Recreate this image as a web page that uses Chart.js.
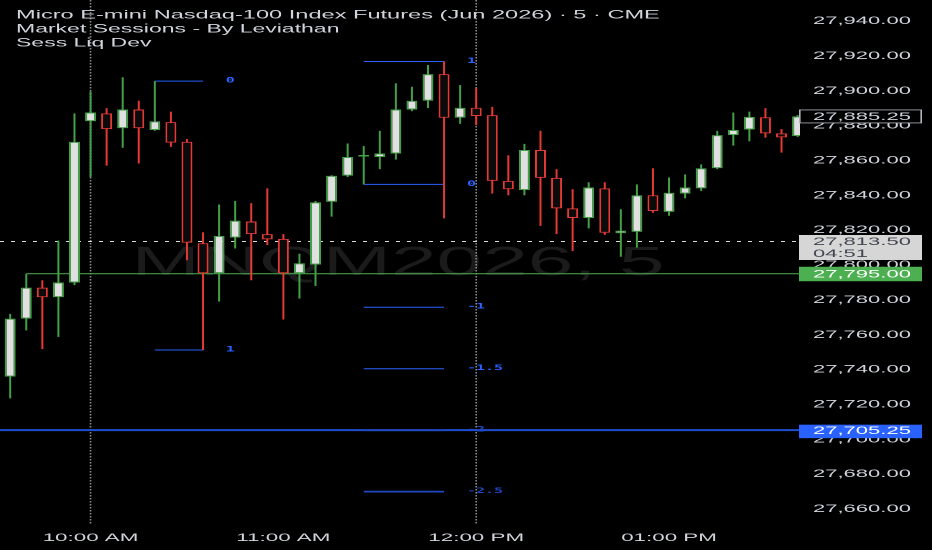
<!DOCTYPE html>
<html>
<head>
<meta charset="utf-8">
<title>MNQM2026 · 5</title>
<script src="https://cdn.jsdelivr.net/npm/chart.js@4.4.1/dist/chart.umd.min.js"></script>
<style>
  html, body { margin: 0; padding: 0; background: #000; overflow: hidden; }
  /* the screenshot is stretched 2x horizontally, so the chart is drawn at half width */
  #wrap { width: 466px; height: 550px; transform: scaleX(2); transform-origin: 0 0; }
</style>
</head>
<body>
<div id="wrap"><canvas id="chart" width="466" height="550"></canvas></div>
<script>
// 5 minute bars
const times = ['09:35','09:40','09:45','09:50','09:55','10:00','10:05','10:10','10:15','10:20',
  '10:25','10:30','10:35','10:40','10:45','10:50','10:55','11:00','11:05','11:10',
  '11:15','11:20','11:25','11:30','11:35','11:40','11:45','11:50','11:55','12:00',
  '12:05','12:10','12:15','12:20','12:25','12:30','12:35','12:40','12:45','12:50',
  '12:55','13:00','13:05','13:10','13:15','13:20','13:25','13:30','13:35','13:40']
const opens = [27736,27769.25,27787,27781.5,27790,27882.5,27887,27878.5,27889.25,27877.5,
  27882,27870.75,27812.5,27795.25,27815.75,27825,27817.75,27815,27795.25,27800.25,
  27836.25,27851.25,27862.25,27862,27864,27889.25,27894.25,27909.5,27884.5,27890.25,
  27886,27848.25,27843,27866,27850,27832.5,27827,27844,27818.25,27819,
  27840,27830.5,27841,27844,27855.5,27874.5,27877.75,27884.75,27875.5,27874]
const highs = [27772,27795,27791.25,27814,27887,27899.5,27890,27907.75,27894.25,27905.5,
  27888,27872.25,27818.75,27834.75,27836.75,27835.5,27844,27817.75,27806.5,27836.75,
  27851.5,27869.75,27868.25,27877,27904.25,27902.25,27914.75,27916.75,27903.25,27901.5,
  27890.75,27863,27869.5,27877,27855,27843.5,27847.5,27847.5,27832,27846.25,
  27855.5,27850.25,27852,27857.75,27877,27887.5,27888,27890,27878,27886]
const lows = [27723.5,27762.5,27751.75,27758.75,27788.5,27850.5,27857,27867.25,27858.25,27877,
  27867.75,27802.75,27751.25,27779,27809.5,27791.25,27811.5,27768.75,27780.75,27788,
  27827.75,27850.5,27846.25,27855,27860.5,27888.25,27890,27826.75,27881,27880.25,
  27841,27840,27840,27822.5,27817.75,27808,27821,27817.25,27804.75,27810,
  27830,27828.25,27838.25,27842.5,27855,27868.5,27871,27873,27864.5,27873.5]
const closes = [27769.25,27787,27781.5,27790,27870.75,27887.5,27878,27889.25,27878.5,27882.5,
  27870.25,27812.75,27795.25,27816.75,27825.5,27817.75,27814.75,27795.25,27801,27836,
  27851.25,27862,27862.5,27864,27889.25,27894.25,27909.5,27884.5,27890.25,27885.5,
  27848.25,27843.5,27866,27850,27832.5,27827,27844.5,27818.5,27819.75,27840,
  27831,27841.5,27844.5,27855.5,27874.5,27877.5,27885,27875.5,27873.25,27885.25]

const priceTicks = [27660,27680,27700,27720,27740,27760,27780,27800,27820,27840,27860,27880,27900,27920,27940]
const timeTicks = ['10:00','11:00','12:00','13:00']
const timeTickLabels = ['10:00 AM','11:00 AM','12:00 PM','01:00 PM']
const sessionBreaks = ['10:00','12:00']

const titleLines = ['Micro E-mini Nasdaq-100 Index Futures (Jun 2026) · 5 · CME', 'Market Sessions - By Leviathan', 'Sess Liq Dev']
const watermark = 'MNQM2026, 5'

// Sess Liq Dev levels
const devA_span = ['10:20','10:35']
const devA_levels = [27905.5, 27751.25]
const devA_labels = ['0','1']
const devB_span = ['11:25','11:50']
const devB_levels = [27916.75, 27846.25, 27775.75, 27740.5, 27705.25, 27670]
const devB_labels = ['1','0','-1','-1.5','-2','-2.5']

// price scale markers
const lastPrice = 27885.25
const livePrice = 27813.5
const countdown = '04:51'
const greenLevel = 27795
const greenFrom = '09:40'
const blueLevel = 27705.25

const GREEN = '#43a047'
const RED = '#e53935'
const TEXT = '#d1d4dc'
const FONT = '"Liberation Sans", Arial, sans-serif'

const isUp = i => closes[i] >= opens[i]
const fmt = v => v.toLocaleString('en-US', { minimumFractionDigits: 2, maximumFractionDigits: 2 })

const overlay = {
    id: 'overlay',
    beforeDatasetsDraw(chart) {
        const { ctx, chartArea: a, scales: { x, y } } = chart
        ctx.save()

        ctx.font = '41px ' + FONT
        ctx.fillStyle = '#1b1b1b'
        ctx.textAlign = 'center'
        ctx.textBaseline = 'alphabetic'
        ctx.fillText(watermark, (a.left + a.right) / 2 - 1, 275)

        // session separators
        ctx.strokeStyle = '#8c8c8c'
        ctx.lineWidth = 0.8
        ctx.setLineDash([1.5, 1.5])
        sessionBreaks.forEach(t => {
            const xp = x.getPixelForValue(times.indexOf(t))
            ctx.beginPath()
            ctx.moveTo(xp, a.top)
            ctx.lineTo(xp, a.bottom)
            ctx.stroke()
        })

        // live price dotted line
        ctx.strokeStyle = '#dcdcdc'
        ctx.lineWidth = 1
        ctx.setLineDash([2, 3.5])
        let yp = y.getPixelForValue(livePrice)
        ctx.beginPath()
        ctx.moveTo(a.left, yp)
        ctx.lineTo(a.right, yp)
        ctx.stroke()
        ctx.setLineDash([])

        yp = y.getPixelForValue(greenLevel)
        ctx.strokeStyle = '#4caf50'
        ctx.beginPath()
        ctx.moveTo(x.getPixelForValue(times.indexOf(greenFrom)), yp)
        ctx.lineTo(a.right, yp)
        ctx.stroke()

        yp = y.getPixelForValue(blueLevel)
        ctx.strokeStyle = '#1f4fd0'
        ctx.lineWidth = 2
        ctx.beginPath()
        ctx.moveTo(a.left, yp)
        ctx.lineTo(a.right, yp)
        ctx.stroke()

        // deviation levels
        const drawLevels = (span, levels, labels) => {
            const i0 = times.indexOf(span[0]), i1 = times.indexOf(span[1])
            const x0 = x.getPixelForValue(i0), x1 = x.getPixelForValue(i1)
            const xl = x.getPixelForValue(i1 + 1.42)
            ctx.font = 'bold 7.5px "DejaVu Sans Mono", monospace'
            ctx.textAlign = 'left'
            ctx.textBaseline = 'middle'
            levels.forEach((v, k) => {
                const deep = parseFloat(labels[k]) <= -2
                const col = deep ? '#1e48c0' : '#2962ff'
                const ly = y.getPixelForValue(v)
                ctx.strokeStyle = col
                ctx.lineWidth = deep ? 1.8 : 1
                ctx.beginPath()
                ctx.moveTo(x0, ly)
                ctx.lineTo(x1, ly)
                ctx.stroke()
                ctx.fillStyle = col
                ctx.fillText(labels[k], xl, ly - 0.5)
            })
        }
        drawLevels(devA_span, devA_levels, devA_labels)
        drawLevels(devB_span, devB_levels, devB_labels)

        ctx.restore()
    },
    afterDraw(chart) {
        const { ctx, chartArea: a, scales: { y } } = chart
        const bx = a.right - 0.5, bw = 61.5, tx = a.right + 6.5
        ctx.save()
        ctx.font = '11px ' + FONT
        ctx.textAlign = 'left'
        ctx.textBaseline = 'middle'

        let yp = y.getPixelForValue(lastPrice)
        ctx.fillStyle = '#000'
        ctx.fillRect(bx, yp - 6.5, bw, 13)
        ctx.strokeStyle = '#b2b5be'
        ctx.lineWidth = 0.8
        ctx.strokeRect(bx + 0.4, yp - 6.5, bw - 0.8, 13)
        ctx.fillStyle = TEXT
        ctx.fillText(fmt(lastPrice), tx, yp + 0.5)

        yp = y.getPixelForValue(livePrice)
        ctx.fillStyle = '#d6d6d6'
        ctx.fillRect(bx, yp - 6.5, bw, 25)
        ctx.fillStyle = '#434651'
        ctx.fillText(fmt(livePrice), tx, yp + 0.5)
        ctx.fillText(countdown, tx, yp + 12.5)

        yp = y.getPixelForValue(greenLevel)
        ctx.fillStyle = '#4caf50'
        ctx.fillRect(bx, yp - 7, bw, 14.5)
        ctx.fillStyle = '#ffffff'
        ctx.fillText(fmt(greenLevel), tx, yp + 0.5)

        yp = y.getPixelForValue(blueLevel)
        ctx.fillStyle = '#2962ff'
        ctx.fillRect(bx, yp - 5.5, bw, 13.5)
        ctx.fillStyle = '#ffffff'
        ctx.fillText(fmt(blueLevel), tx, yp + 1)

        // legend lines
        ctx.fillStyle = TEXT
        ctx.textBaseline = 'alphabetic'
        ctx.font = '11.8px ' + FONT
        ctx.fillText(titleLines[0], 8, 18.3)
        ctx.font = '11.5px ' + FONT
        ctx.fillText(titleLines[1], 8, 32.4)
        ctx.fillText(titleLines[2], 8, 46.6)
        ctx.restore()
    }
}

const ctx = document.getElementById('chart').getContext('2d')
new Chart(ctx, {
    type: 'bar',
    data: {
        datasets: [{
            label: 'wick',
            data: times.map((t, i) => ({ x: i, y: [lows[i], highs[i]] })),
            backgroundColor: times.map((t, i) => isUp(i) ? GREEN : RED),
            borderWidth: 0,
            grouped: false,
            maxBarThickness: 1,
            inflateAmount: 0,
            clip: 0,
            order: 2
        }, {
            label: 'body',
            data: times.map((t, i) => ({ x: i, y: [opens[i], closes[i]] })),
            backgroundColor: times.map((t, i) => isUp(i) ? '#e0e0e0' : '#0b0b0b'),
            borderColor: times.map((t, i) => isUp(i) ? GREEN : RED),
            borderWidth: 1,
            borderSkipped: false,
            grouped: false,
            maxBarThickness: 5.5,
            minBarLength: 1.5,
            inflateAmount: 0,
            clip: 0,
            order: 1
        }]
    },
    options: {
        responsive: false,
        devicePixelRatio: 2,
        animation: false,
        layout: { padding: 0 },
        plugins: { legend: { display: false }, tooltip: { enabled: false } },
        scales: {
            x: {
                type: 'linear',
                offset: false,
                bounds: 'data',
                min: -0.635,
                max: 49.15,
                grid: { display: false, drawTicks: false, offset: false },
                border: { display: false },
                afterBuildTicks: s => { s.ticks = timeTicks.map(t => ({ value: times.indexOf(t) })) },
                afterFit: s => { s.height = 25; s.paddingLeft = 0; s.paddingRight = 0 },
                ticks: {
                    autoSkip: false,
                    maxRotation: 0,
                    padding: 6,
                    color: TEXT,
                    font: { family: FONT, size: 11.2 },
                    callback: v => timeTickLabels[timeTicks.indexOf(times[v])]
                }
            },
            y: {
                position: 'right',
                min: 27650.85,
                max: 27952.05,
                grid: { display: false, drawTicks: false },
                border: { display: false },
                afterBuildTicks: s => { s.ticks = priceTicks.map(v => ({ value: v })) },
                afterFit: s => { s.width = 66; s.paddingTop = 0; s.paddingBottom = 0 },
                ticks: {
                    padding: 6.5,
                    color: TEXT,
                    font: { family: FONT, size: 11 },
                    callback: v => fmt(v)
                }
            }
        }
    },
    plugins: [overlay]
})
</script>
</body>
</html>
